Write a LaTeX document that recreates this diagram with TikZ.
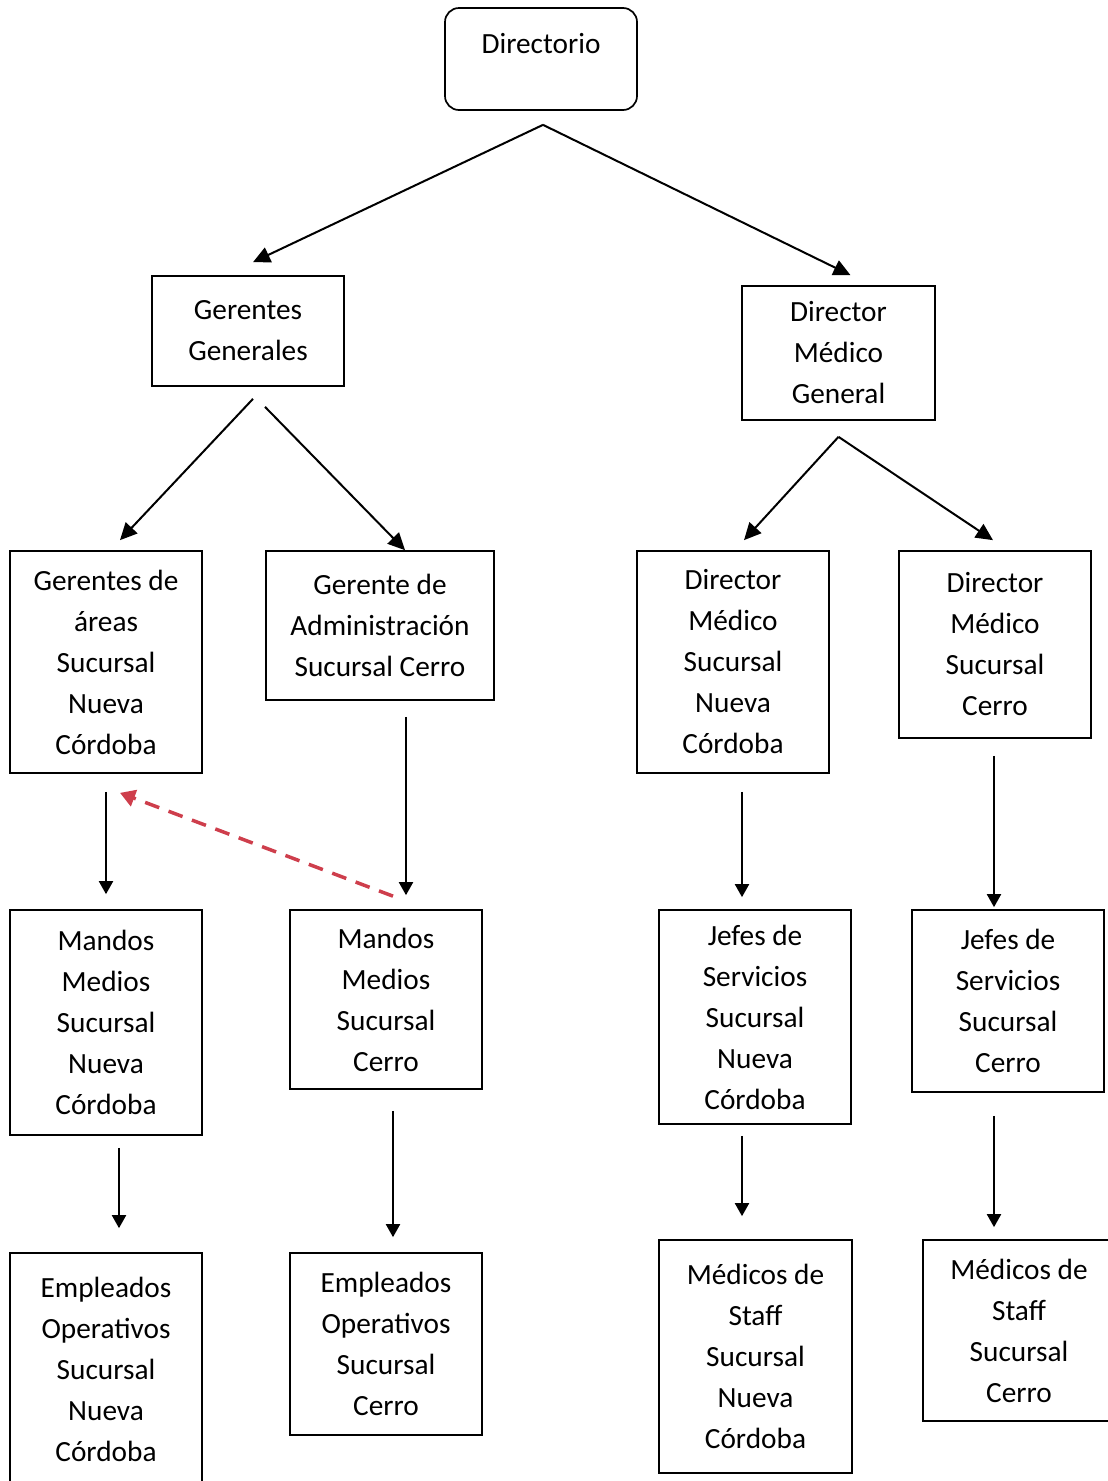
\documentclass[tikz,border=0pt]{standalone}
\usepackage{fontspec}
\setmainfont{Carlito}
\usepackage{xcolor}
\usetikzlibrary{
    arrows.meta,
    calc
}
\definecolor{dashred}{RGB}{206,62,76}
\tikzset{
    unit/.style={
        draw,
        line width=1.7pt,
        minimum width=192pt,
        inner sep=4pt,
        align=center,
        font=\fontsize{29.3}{41}\selectfont
    }
}
\tikzset{
    link/.style={
        draw=black,
        line width=2pt,
        -{Triangle[length=17pt,width=16pt]}
    }
}
\tikzset{
    drop/.style={
        draw=black,
        line width=2pt,
        -{Triangle[length=13pt,width=14pt]}
    }
}
\tikzset{
    hint/.style={
        draw=dashred,
        line width=3.5pt,
        dash pattern=on 15pt off 10pt,
        -{Triangle[length=15pt,width=17pt]}
    }
}

\begin{document}
\begin{tikzpicture}[
    x=1pt,
    y=-1pt
]

\clip (0,0) rectangle (1108,1481);

% ------------------------------------------------------------
% Top levels
% ------------------------------------------------------------

\node[unit, rounded corners=14pt, inner ysep=0pt, text height=45pt, text depth=57pt] (dir) at (541,59) {Directorio};
\node[unit, minimum height=110pt] (gg) at (248,331) {Gerentes\\Generales};
\node[unit, minimum width=193pt, minimum height=134pt] (dmg) at (838.5,353) {Director\\Médico\\General};

\coordinate (dirfork) at ($(dir.south)+(2,14)$);
\draw[link] (dirfork) -- ($(gg.north)+(5,-13)$);
\draw[link] (dirfork) -- ($(dmg.north)+(12,-10)$);

% ------------------------------------------------------------
% Branch heads
% ------------------------------------------------------------

\node[unit, minimum height=222pt] (ga) at (106,662) {Gerentes de\\áreas\\Sucursal\\Nueva\\Córdoba};
\node[unit, minimum width=228pt, minimum height=149pt] (gadm) at (380,625.5) {Gerente de\\Administración\\Sucursal Cerro};
\node[unit, minimum height=222pt] (dmsnc) at (733,662) {Director\\Médico\\Sucursal\\Nueva\\Córdoba};
\node[unit, minimum height=187pt] (dmsc) at (995,644.5) {Director\\Médico\\Sucursal\\Cerro};

\draw[link] ($(gg.south)+(5,12)$) -- ($(ga.north)+(14,-10)$);
\draw[link] ($(gg.south)+(17,20)$) -- ($(gadm.north)+(25,0)$);
\coordinate (dmgfork) at ($(dmg.south)+(0,16)$);
\draw[link] (dmgfork) -- ($(dmsnc.north)+(11,-10)$);
\draw[link] (dmgfork) -- ($(dmsc.north)+(-2,-10)$);

% ------------------------------------------------------------
% Middle level
% ------------------------------------------------------------

\node[unit, minimum height=225pt] (mmnc) at (106,1022.5) {Mandos\\Medios\\Sucursal\\Nueva\\Córdoba};
\node[unit, minimum height=179pt] (mmc) at (386,999.5) {Mandos\\Medios\\Sucursal\\Cerro};
\node[unit, minimum height=214pt] (jsnc) at (755,1017) {Jefes de\\Servicios\\Sucursal\\Nueva\\Córdoba};
\node[unit, minimum height=182pt] (jsc) at (1008,1001) {Jefes de\\Servicios\\Sucursal\\Cerro};

\draw[drop] ($(ga.south)+(0,18)$) -- ($(mmnc.north)+(0,-15)$);
\draw[drop] ($(gadm.south)+(26,16)$) -- ($(mmc.north)+(20,-14)$);
\draw[drop] ($(dmsnc.south)+(9,18)$) -- ($(jsnc.north)+(-13,-12)$);
\draw[drop] ($(dmsc.south)+(-1,17)$) -- ($(jsc.north)+(-14,-2)$);
\draw[hint] ($(mmc.north)+(7,-13)$) -- ($(ga.south)+(14,19)$);

% ------------------------------------------------------------
% Bottom level
% ------------------------------------------------------------

\node[unit, minimum height=232pt] (eonc) at (106,1369) {Empleados\\Operativos\\Sucursal\\Nueva\\Córdoba};
\node[unit, minimum height=182pt] (eoc) at (386,1344) {Empleados\\Operativos\\Sucursal\\Cerro};
\node[unit, minimum width=193pt, minimum height=233pt] (msnc) at (755.5,1356.5) {Médicos de\\Staff\\Sucursal\\Nueva\\Córdoba};
\node[unit, minimum height=181pt] (msc) at (1019,1330.5) {Médicos de\\Staff\\Sucursal\\Cerro};

\draw[drop] ($(mmnc.south)+(13,12)$) -- ($(eonc.north)+(13,-24)$);
\draw[drop] ($(mmc.south)+(7,21)$) -- ($(eoc.north)+(7,-15)$);
\draw[drop] ($(jsnc.south)+(-13,11)$) -- ($(msnc.north)+(-13.5,-23)$);
\draw[drop] ($(jsc.south)+(-14,23)$) -- ($(msc.north)+(-25,-12)$);

\end{tikzpicture}
\end{document}
